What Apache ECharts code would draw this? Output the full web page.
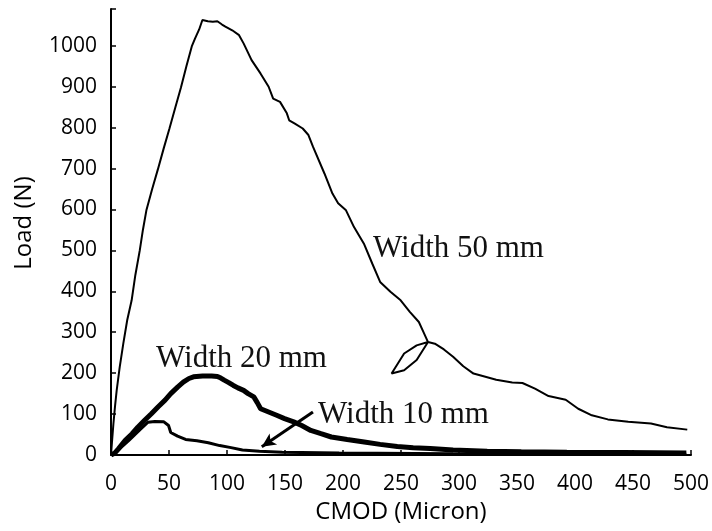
<!DOCTYPE html>
<html><head><meta charset="utf-8">
<script src="https://cdn.jsdelivr.net/npm/echarts@6/dist/echarts.min.js"></script>
<style>html,body{margin:0;padding:0;background:#fff}#c{width:712px;height:531px}</style>
</head><body><div id="c"></div>
<script>
// CMOD (micron) vs Load (N)
const width50 = [
  [0,0],[0.8,30],[2.1,77],[3.5,120],[4.9,158],[7.5,215],[10.6,272],[14,330],[17.8,378],[21,440],
  [24.8,500],[27.5,550],[30.5,598],[35.5,650],[40.4,698],[45.5,750],[50.4,798],[55.5,850],[60.3,898],
  [65,950],[69.8,1000],[72.5,1018],[76,1040],[78.8,1063],[80.3,1067],[83.5,1060],[87.8,1059],
  [91.7,1060],[95.7,1052],[98.6,1047],[104.5,1038],[110.4,1026],[114.3,1006],[121.2,965],[129,932],
  [135.9,900],[139.8,871],[145.7,863],[151.6,835],[153.6,818],[158.5,810],[165.3,798],[170.2,782],
  [174.2,753],[184,688],[190.9,639],[195.8,615],[202.6,598],[209.5,557],[218.3,515],[225.2,468],
  [232,423],[240.9,399],[249.7,378],[257.6,350],[265.4,325],[269.3,301],[273.3,276],
  [263.5,268],[252.7,248],[241.9,199],[252.7,207],[263.5,232],[273.3,276],
  [279.2,272],[287,258],[294.9,240],[303.7,217],[312.5,199],[320.4,193],[332.1,184],[345.9,177],
  [354.7,176],[365.5,162],[377.2,144],[392,135],[402.8,113],[414.5,97],[428.3,87],[445.9,81],
  [465.5,77],[479.3,68],[496.8,62]
];
const width20 = [
  [0,0],[3.4,5],[6.4,15],[12.3,36],[18.2,52],[23.1,68],[29,85],[34.8,101],[40.7,118],[46.6,134],
  [51.5,150],[57.4,166],[62.3,178],[67.2,187],[71.1,191],[79,193],[86.8,193],[91.7,192],[94.7,188],
  [97.6,183],[101.5,177],[105.5,170],[109.4,164],[114.3,158],[118.2,150],[123.1,142],[126.1,128],
  [129,113],[135.9,105],[142.8,97],[149.6,89],[157.5,81],[164.4,72],[172.2,60],[181,52],[189.9,44],
  [203.6,38],[218.3,32],[232,26],[246.8,21],[260.5,18],[275.2,16],[294.9,12],[324.3,9],[353.7,8],
  [393,7],[442,6],[496,5]
];
const width10 = [
  [0,0],[5.4,10],[15.2,35],[25,62],[31.9,80],[37.8,82],[45.6,81],[49.6,72],[51.5,55],[57.4,46],
  [64.3,38],[74.1,35],[83.9,30],[93.7,23],[103.5,18],[113.3,12],[128,9],[147.7,7],[196.7,5],
  [294.9,3],[496,2]
];
const arrowFrom = [174.1,105];
const arrowTo = [130,20];
const xMax = 500, yMax = 1090, xStep = 50, yStep = 100;

const chart = echarts.init(document.getElementById('c'), null, {renderer:'canvas'});
const axisFont = '"Open Sans", "Noto Sans", sans-serif';
const serif = '"Liberation Serif", "Times New Roman", serif';
chart.setOption({
  animation:false,
  backgroundColor:'#fff',
  grid:{left:111, right:15, top:9, bottom:76, containLabel:false},
  xAxis:{
    type:'value', min:0, max:xMax, interval:xStep,
    name:'CMOD (Micron)', nameLocation:'middle', nameGap:43,
    nameTextStyle:{fontFamily:axisFont, fontSize:24, color:'#000'},
    axisLine:{lineStyle:{color:'#000', width:2}},
    axisTick:{inside:true, length:5, lineStyle:{color:'#000', width:1.5}},
    axisLabel:{margin:19, fontFamily:axisFont, fontSize:21, color:'#000'},
    splitLine:{show:false}
  },
  yAxis:{
    type:'value', min:0, max:yMax, interval:yStep,
    name:'Load (N)', nameLocation:'middle', nameGap:75,
    nameTextStyle:{fontFamily:axisFont, fontSize:24, color:'#000', padding:[0,0,0,18]},
    axisLine:{show:true, lineStyle:{color:'#000', width:2}},
    axisTick:{show:true, inside:true, length:5, lineStyle:{color:'#000', width:1.5}},
    axisLabel:{margin:14, fontFamily:axisFont, fontSize:21, color:'#000',
      formatter:v => (v % 100 === 0 ? String(v) : '')},
    splitLine:{show:false}
  },
  series:[
    {name:'Width 50 mm', type:'line', data:width50, showSymbol:false, smooth:false,
      lineStyle:{color:'#000', width:2}},
    {name:'Width 20 mm', type:'line', data:width20, showSymbol:false,
      lineStyle:{color:'#000', width:5}},
    {name:'Width 10 mm', type:'line', data:width10, showSymbol:false,
      lineStyle:{color:'#000', width:3},
      markLine:{silent:true, symbol:['none','arrow'], symbolSize:[10,14],
        label:{show:false},
        lineStyle:{color:'#000', width:3, type:'solid'},
        data:[[{coord:arrowFrom},{coord:arrowTo}]]}}
  ],
  graphic:[
    {type:'text', left:373, top:233, style:{text:'Width 50 mm', font:'31px '+serif, fill:'#111'}},
    {type:'text', left:156, top:343, style:{text:'Width 20 mm', font:'31px '+serif, fill:'#111'}},
    {type:'text', left:318, top:399, style:{text:'Width 10 mm', font:'31px '+serif, fill:'#111'}}
  ]
});
</script></body></html>
